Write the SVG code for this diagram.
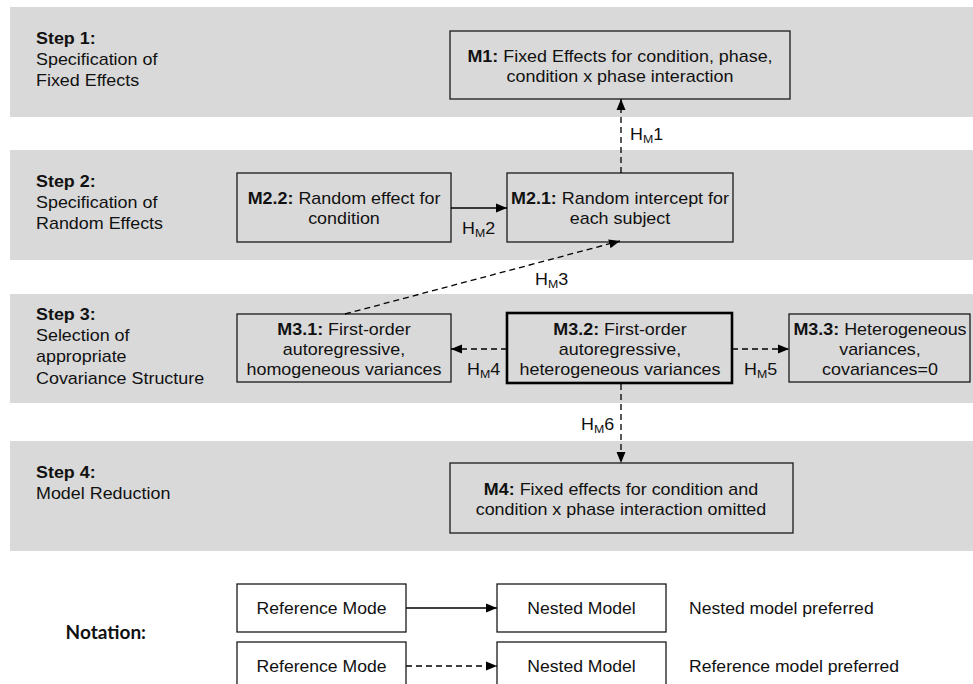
<svg xmlns="http://www.w3.org/2000/svg" width="973" height="684" viewBox="0 0 973 684">
<style>
.band{fill:#d9d9d9}
.box{fill:#d9d9d9;stroke:#1a1a1a;stroke-width:1.3}
.thick{fill:#d9d9d9;stroke:#000;stroke-width:2.6}
.wbox{fill:#fff;stroke:#1a1a1a;stroke-width:1.3}
text{font-family:"Liberation Sans",Arial,sans-serif;fill:#111}
.t{font-size:16px;text-anchor:middle}
.s{font-size:16px}
.b{font-weight:bold}
.lab{font-size:16px}
.sub{font-size:11px}
.con{fill:none;stroke:#000;stroke-width:1.3}
.dash{stroke-dasharray:6 4}
.nt{font-family:Lato,"Open Sans",sans-serif;font-weight:bold;font-size:19px}
</style>
<defs>
<marker id="ah" viewBox="0 0 11 10" refX="11" refY="5" markerWidth="11" markerHeight="10" markerUnits="userSpaceOnUse" orient="auto">
<path d="M0,0.5 L11,5 L0,9.5 Z" fill="#000"/>
</marker>
</defs>

<g id="bands">
<rect class="band" x="10" y="7" width="963" height="110"/>
<rect class="band" x="10" y="150" width="963" height="110"/>
<rect class="band" x="10" y="294" width="963" height="109"/>
<rect class="band" x="10" y="441" width="963" height="110"/>
</g>

<g id="step1">
<text class="s b" transform="translate(36 44) scale(1.12 1)">Step 1:</text>
<text class="s" transform="translate(36 65) scale(1.12 1)">Specification of</text>
<text class="s" transform="translate(36 86) scale(1.12 1)">Fixed Effects</text>
</g>
<g id="step2">
<text class="s b" transform="translate(36 187) scale(1.12 1)">Step 2:</text>
<text class="s" transform="translate(36 208) scale(1.12 1)">Specification of</text>
<text class="s" transform="translate(36 229) scale(1.12 1)">Random Effects</text>
</g>
<g id="step3">
<text class="s b" transform="translate(36 320) scale(1.12 1)">Step 3:</text>
<text class="s" transform="translate(36 341) scale(1.12 1)">Selection of</text>
<text class="s" transform="translate(36 362) scale(1.12 1)">appropriate</text>
<text class="s" transform="translate(36 384) scale(1.12 1)">Covariance Structure</text>
</g>
<g id="step4">
<text class="s b" transform="translate(36 478) scale(1.12 1)">Step 4:</text>
<text class="s" transform="translate(36 499) scale(1.12 1)">Model Reduction</text>
</g>

<g id="M1">
<rect class="box" x="450" y="31" width="340" height="68"/>
<text class="t" transform="translate(620 62) scale(1.12 1)"><tspan class="b">M1:</tspan> Fixed Effects for condition, phase,</text>
<text class="t" transform="translate(620 82) scale(1.12 1)">condition x phase interaction</text>
</g>
<g id="M2.2">
<rect class="box" x="237" y="173" width="214" height="69"/>
<text class="t" transform="translate(344 204) scale(1.12 1)"><tspan class="b">M2.2:</tspan> Random effect for</text>
<text class="t" transform="translate(344 224) scale(1.12 1)">condition</text>
</g>
<g id="M2.1">
<rect class="box" x="507" y="173" width="226" height="69"/>
<text class="t" transform="translate(620 204) scale(1.12 1)"><tspan class="b">M2.1:</tspan> Random intercept for</text>
<text class="t" transform="translate(620 224) scale(1.12 1)">each subject</text>
</g>
<g id="M3.1">
<rect class="box" x="237" y="314" width="214" height="68"/>
<text class="t" transform="translate(344 335) scale(1.12 1)"><tspan class="b">M3.1:</tspan> First-order</text>
<text class="t" transform="translate(344 355) scale(1.12 1)">autoregressive,</text>
<text class="t" transform="translate(344 375) scale(1.12 1)">homogeneous variances</text>
</g>
<g id="M3.2">
<rect class="thick" x="507" y="313" width="225" height="70"/>
<text class="t" transform="translate(620 335) scale(1.12 1)"><tspan class="b">M3.2:</tspan> First-order</text>
<text class="t" transform="translate(620 355) scale(1.12 1)">autoregressive,</text>
<text class="t" transform="translate(620 375) scale(1.12 1)">heterogeneous variances</text>
</g>
<g id="M3.3">
<rect class="box" x="789" y="314" width="181" height="68"/>
<text class="t" transform="translate(880 335) scale(1.12 1)"><tspan class="b">M3.3:</tspan> Heterogeneous</text>
<text class="t" transform="translate(880 355) scale(1.12 1)">variances,</text>
<text class="t" transform="translate(880 375) scale(1.12 1)">covariances=0</text>
</g>
<g id="M4">
<rect class="box" x="450" y="463" width="343" height="70"/>
<text class="t" transform="translate(621 495) scale(1.12 1)"><tspan class="b">M4:</tspan> Fixed effects for condition and</text>
<text class="t" transform="translate(621 515) scale(1.12 1)">condition x phase interaction omitted</text>
</g>

<g id="connectors">
<line class="con dash" x1="621" y1="173" x2="621" y2="99" marker-end="url(#ah)"/>
<line class="con" x1="451" y1="208" x2="507" y2="208" marker-end="url(#ah)"/>
<line class="con dash" x1="345" y1="314" x2="620" y2="241" marker-end="url(#ah)"/>
<line class="con dash" x1="507" y1="349" x2="451" y2="349" marker-end="url(#ah)"/>
<line class="con dash" x1="732" y1="349" x2="789" y2="349" marker-end="url(#ah)"/>
<line class="con dash" x1="621" y1="384" x2="621" y2="463" marker-end="url(#ah)"/>
<line class="con" x1="406" y1="608" x2="497" y2="608" marker-end="url(#ah)"/>
<line class="con dash" x1="406" y1="666" x2="497" y2="666" marker-end="url(#ah)"/>
</g>

<g id="labels">
<text class="lab" transform="translate(630 140) scale(1.12 1)">H<tspan class="sub" dy="3">M</tspan><tspan dy="-3">1</tspan></text>
<text class="lab" transform="translate(462 234) scale(1.12 1)">H<tspan class="sub" dy="3">M</tspan><tspan dy="-3">2</tspan></text>
<text class="lab" transform="translate(535 285) scale(1.12 1)">H<tspan class="sub" dy="3">M</tspan><tspan dy="-3">3</tspan></text>
<text class="lab" transform="translate(467 375) scale(1.12 1)">H<tspan class="sub" dy="3">M</tspan><tspan dy="-3">4</tspan></text>
<text class="lab" transform="translate(744 375) scale(1.12 1)">H<tspan class="sub" dy="3">M</tspan><tspan dy="-3">5</tspan></text>
<text class="lab" transform="translate(581 430) scale(1.12 1)">H<tspan class="sub" dy="3">M</tspan><tspan dy="-3">6</tspan></text>
</g>

<g id="notation">
<text class="nt" x="146" y="639" text-anchor="end">Notation:</text>
<g id="ref1">
<rect class="wbox" x="237" y="584" width="169" height="48"/>
<text class="t" transform="translate(321.5 614) scale(1.1 1)">Reference Mode</text>
</g>
<g id="nest1">
<rect class="wbox" x="497" y="584" width="169" height="48"/>
<text class="t" transform="translate(581.5 614) scale(1.1 1)">Nested Model</text>
</g>
<text class="lab" transform="translate(689 614) scale(1.1 1)">Nested  model preferred</text>
<g id="ref2">
<rect class="wbox" x="237" y="642" width="169" height="50"/>
<text class="t" transform="translate(321.5 672) scale(1.1 1)">Reference Mode</text>
</g>
<g id="nest2">
<rect class="wbox" x="497" y="642" width="169" height="50"/>
<text class="t" transform="translate(581.5 672) scale(1.1 1)">Nested Model</text>
</g>
<text class="lab" transform="translate(689 672) scale(1.1 1)">Reference model preferred</text>
</g>
</svg>
